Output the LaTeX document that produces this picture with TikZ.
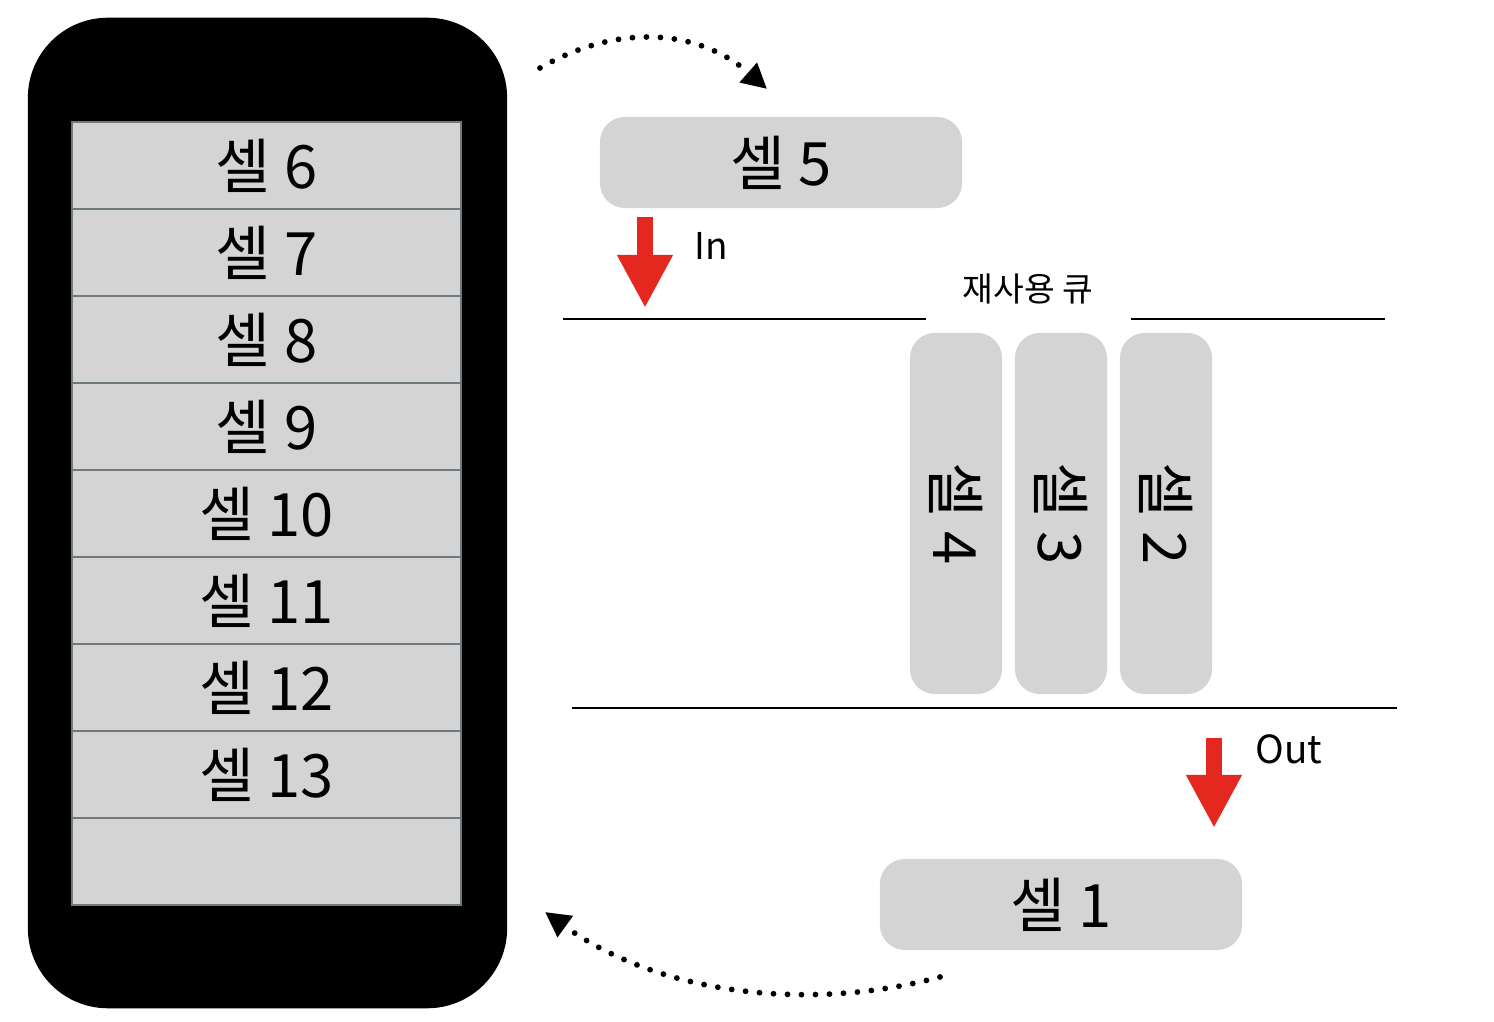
\documentclass[tikz,border=0pt]{standalone}
\usepackage{fontspec}
\setmainfont{Noto Sans CJK KR}
\usetikzlibrary{arrows.meta,positioning}

\definecolor{cellgray}{HTML}{D4D4D4}
\definecolor{rowline}{HTML}{6F7A7E}
\definecolor{arrowred}{HTML}{E5281F}

\tikzset{
    phone/.style={fill=black, rounded corners=0.8cm, minimum width=4.79cm,
        minimum height=9.9cm, inner sep=0pt},
    row/.style={fill=cellgray, draw=rowline, line width=0.02cm, minimum width=3.89cm,
        minimum height=0.87cm, inner sep=0pt, font=\fontsize{17}{19}\selectfont},
    cellbox/.style={fill=cellgray, rounded corners=0.25cm, minimum width=3.62cm,
        minimum height=0.91cm, inner sep=0pt, font=\fontsize{17}{19}\selectfont},
    qcell/.style={cellbox, minimum width=3.61cm, minimum height=0.92cm, rotate=-90},
    qline/.style={line width=0.028cm},
    redarrow/.style={arrowred, line width=0.16cm, -{Triangle[width=0.52cm,length=0.53cm]}},
    reuse/.style={line width=0.058cm, line cap=round, dash pattern=on 0pt off 0.14cm,
        -{Triangle[width=0.25cm,length=0.25cm]}}
}

\begin{document}
\begin{tikzpicture}[x=0.01cm, y=-0.01cm]
    \useasboundingbox (0,0) rectangle (1494,1022);

    % phone with the visible cells
    \node[phone] (phone) at (267.5, 513) {};
    \foreach \n [count=\i from 0] in {6,...,13}
        \node[row] (row\n) at (266.5, {165.5+87*\i}) {셀 \n};
    \node[row] (rowend) at (266.5, 861.5) {};

    % cell leaving the screen
    \node[cellbox] (cell5) at (781, 162.5) {셀 5};
    \coordinate (in top) at (645, 217);
    \coordinate (in tip) at (645, 308);
    \draw[redarrow] (in top) -- (in tip);
    \node[font=\fontsize{10.5}{12}\selectfont] (in) at (711, 246) {In};

    % the reuse queue
    \node[font=\fontsize{9.5}{11}\selectfont] (queue) at (1028, 289) {재사용 큐};
    \draw[qline] (563, 319) -- (926, 319);
    \draw[qline] (1131, 319) -- (1385, 319);
    \draw[qline] (572, 708) -- (1397, 708);

    \node[qcell] (cell4) at (956, 513.5) {셀 4};
    \node[qcell] (cell3) at (1061, 513.5) {셀 3};
    \node[qcell] (cell2) at (1166, 513.5) {셀 2};

    % cell taken out of the queue
    \coordinate (out top) at (1214, 738);
    \coordinate (out tip) at (1214, 828);
    \draw[redarrow] (out top) -- (out tip);
    \node[font=\fontsize{11}{13}\selectfont] (out) at (1289, 749) {Out};
    \node[cellbox] (cell1) at (1061, 904.5) {셀 1};

    % dotted paths
    \coordinate (top start) at (540, 68);
    \coordinate (top end) at (767, 89);
    \draw[reuse] (top start) .. controls (620, 22) and (700, 30) .. (top end);

    \coordinate (low start) at (940, 977);
    \coordinate (low end) at (545, 912);
    \draw[reuse] (low start) .. controls (810, 1012) and (660, 995) .. (low end);
\end{tikzpicture}
\end{document}
